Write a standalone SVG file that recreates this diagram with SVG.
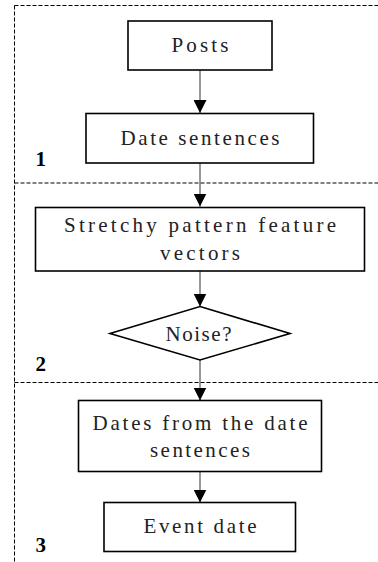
<svg xmlns="http://www.w3.org/2000/svg" width="378" height="562" viewBox="0 0 378 562">
<style>
.box{fill:#fff;stroke:#000;stroke-width:1.6}
.t{font-family:"Liberation Serif","Times New Roman",serif;font-size:21px;fill:#222;text-anchor:middle}
.n{font-family:"Liberation Serif",serif;font-size:21px;font-weight:bold;fill:#000}
.dash{stroke:#000;stroke-width:1;stroke-dasharray:4 2;fill:none}
.c{stroke:#555;stroke-width:1.2;fill:none}
</style>
<defs>
<marker id="ah" viewBox="0 0 13 13" refX="13" refY="6.5" markerWidth="13" markerHeight="13" markerUnits="userSpaceOnUse" orient="auto">
<path d="M0,0 L13,6.5 L0,13 Z" fill="#000"/>
</marker>
</defs>
<g id="regions">
<path class="dash" d="M14.5,5.5 H378 M14.5,5.5 V562 M14.5,183 H378 M14.5,382.5 H378"/>
<text class="n" x="35.5" y="166">1</text>
<text class="n" x="35.5" y="371">2</text>
<text class="n" x="35.5" y="552">3</text>
</g>
<g id="connectors">
<line class="c" x1="200" y1="70" x2="200" y2="113" marker-end="url(#ah)"/>
<line class="c" x1="200" y1="163" x2="200" y2="206.5" marker-end="url(#ah)"/>
<line class="c" x1="200" y1="271" x2="200" y2="306.5" marker-end="url(#ah)"/>
<line class="c" x1="200" y1="360" x2="200" y2="400.5" marker-end="url(#ah)"/>
<line class="c" x1="200" y1="471.5" x2="200" y2="502.5" marker-end="url(#ah)"/>
</g>
<g id="posts">
<rect class="box" x="128" y="21" width="144" height="49"/>
<text class="t" x="200" y="52" textLength="57" lengthAdjust="spacing">Posts</text>
</g>
<g id="date-sentences">
<rect class="box" x="86" y="113.5" width="227.5" height="49.5"/>
<text class="t" x="200" y="145" textLength="159" lengthAdjust="spacing">Date sentences</text>
</g>
<g id="stretchy">
<rect class="box" x="35.5" y="207.5" width="329" height="63.5"/>
<text class="t" x="200" y="232" textLength="272" lengthAdjust="spacing">Stretchy pattern feature</text>
<text class="t" x="200" y="259.5" textLength="80" lengthAdjust="spacing">vectors</text>
</g>
<g id="noise">
<polygon class="box" points="200,306.5 290,333.5 200,360 110,333.5"/>
<text class="t" x="198.5" y="341" textLength="66" lengthAdjust="spacing">Noise?</text>
</g>
<g id="dates">
<rect class="box" x="78.5" y="400.5" width="243" height="71"/>
<text class="t" x="200" y="430" textLength="215" lengthAdjust="spacing">Dates from the date</text>
<text class="t" x="200" y="457" textLength="100" lengthAdjust="spacing">sentences</text>
</g>
<g id="event-date">
<rect class="box" x="104" y="502.5" width="191.5" height="49"/>
<text class="t" x="200" y="533" textLength="113" lengthAdjust="spacing">Event date</text>
</g>
</svg>
